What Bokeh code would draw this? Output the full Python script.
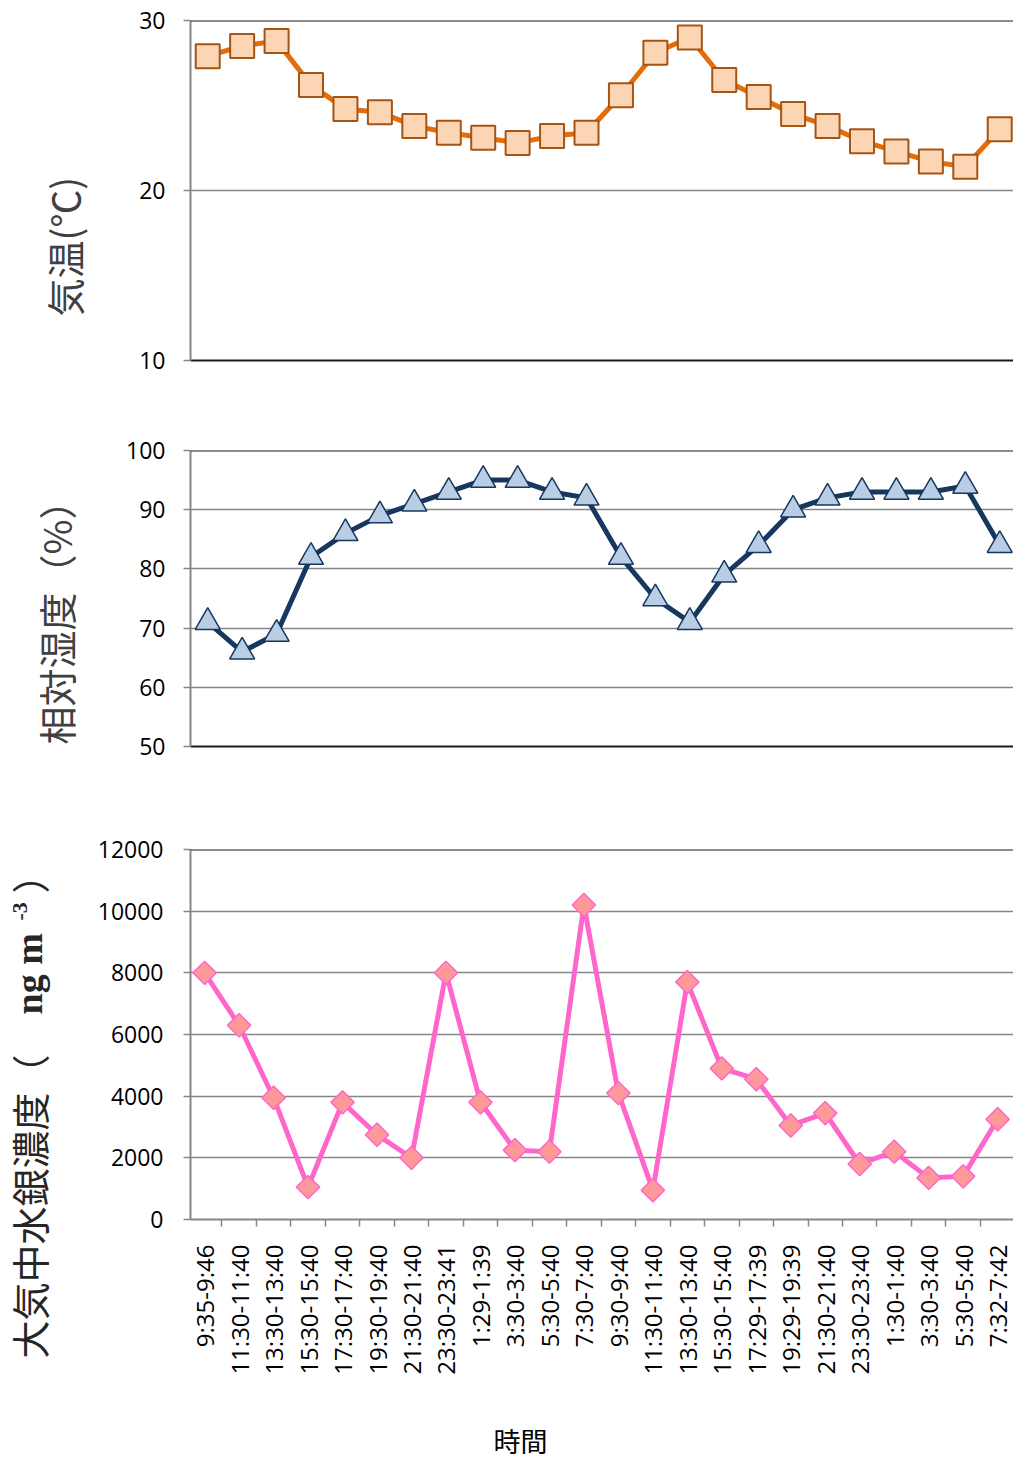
import numpy as np
from bokeh.plotting import figure
from bokeh.models import FixedTicker, Range1d, Span
from bokeh.layouts import column, row
from bokeh.embed import file_html
from bokeh.resources import INLINE
from bokeh.core.properties import value

# ---------------- data ----------------
time_labels = ["9:35-9:46", "11:30-11:40", "13:30-13:40", "15:30-15:40", "17:30-17:40",
               "19:30-19:40", "21:30-21:40", "23:30-23:41", "1:29-1:39", "3:30-3:40",
               "5:30-5:40", "7:30-7:40", "9:30-9:40", "11:30-11:40", "13:30-13:40",
               "15:30-15:40", "17:29-17:39", "19:29-19:39", "21:30-21:40", "23:30-23:40",
               "1:30-1:40", "3:30-3:40", "5:30-5:40", "7:32-7:42"]
temperature = [27.9, 28.5, 28.8, 26.2, 24.8, 24.6, 23.8, 23.4, 23.1, 22.8, 23.2, 23.4,
               25.6, 28.1, 29.0, 26.5, 25.5, 24.5, 23.8, 22.9, 22.3, 21.7, 21.4, 23.6]
humidity = [71, 66, 69, 82, 86, 89, 91, 93, 95, 95, 93, 92,
            82, 75, 71, 79, 84, 90, 92, 93, 93, 93, 94, 84]
mercury = [8000, 6300, 3950, 1050, 3800, 2750, 2000, 8000, 3800, 2250, 2200, 10200,
           4100, 950, 7700, 4900, 4550, 3050, 3450, 1800, 2200, 1350, 1400, 3250]
temp_ticks = [10, 20, 30]
hum_ticks = [50, 60, 70, 80, 90, 100]
hg_ticks = [0, 2000, 4000, 6000, 8000, 10000, 12000]
x_title = "時間"
temp_title = "気温(℃)"
hum_title = "相対湿度（%）"
hg_title_parts = ["大気中水銀濃度（", "ng m", "-3", "）"]

xs = list(range(len(time_labels)))

GRID = "#868686"
DARK = "#1a1a1a"
TICK_FONT = "Open Sans"
CJK = "Noto Sans CJK JP"
TOTAL_H = 1461
LEFT_W = 92
MAIN_W = 1013 - LEFT_W
FRAME_L = 190


def bare(p):
    p.outline_line_color = None
    p.xgrid.grid_line_color = None
    p.ygrid.grid_line_color = None


def style_y(p, ticks, standoff=18):
    ax = p.yaxis[0]
    ax.ticker = FixedTicker(ticks=ticks)
    ax.axis_line_color = GRID
    ax.axis_line_width = 2
    ax.major_tick_line_color = GRID
    ax.major_tick_line_width = 1.5
    ax.major_tick_out = 7
    ax.major_tick_in = 0
    ax.minor_tick_line_color = None
    ax.major_label_text_font = TICK_FONT
    ax.major_label_text_font_size = "23px"
    ax.major_label_text_color = "#000000"
    ax.major_label_standoff = standoff
    p.ygrid.grid_line_color = GRID
    p.ygrid.grid_line_width = 1.5
    p.xgrid.grid_line_color = None
    p.outline_line_color = None


def plain_x(p):
    ax = p.xaxis[0]
    ax.ticker = FixedTicker(ticks=[])
    ax.axis_line_color = DARK
    ax.axis_line_width = 2
    ax.major_tick_line_color = None
    ax.minor_tick_line_color = None
    ax.major_label_text_font_size = "0px"


# ---------------- left strip with the axis titles ----------------
pl = figure(width=LEFT_W, height=TOTAL_H, x_range=Range1d(0, LEFT_W), y_range=Range1d(0, TOTAL_H),
            output_backend="svg", toolbar_location=None, x_axis_location=None, y_axis_location=None,
            min_border=0)
bare(pl)
pl.text(x=[63], y=[TOTAL_H - 316], text=[temp_title], angle=np.pi / 2, text_align="left",
        text_baseline="middle", text_font=value(CJK), text_font_size="38px", text_color="#404040")
pl.text(x=[55], y=[TOTAL_H - 744], text=[hum_title], angle=np.pi / 2, text_align="left",
        text_baseline="middle", text_font=value(CJK), text_font_size="38px", text_color="#404040")
hg_x = [28, 28, 19, 28]
hg_y = [1358, 1014, 920, 893]
hg_fonts = [CJK, "Liberation Serif", "Liberation Serif", CJK]
hg_sizes = ["38px", "38px", "22px", "38px"]
hg_styles = ["normal", "bold", "bold", "normal"]
for t, tx, ty, f, s, st in zip(hg_title_parts, hg_x, hg_y, hg_fonts, hg_sizes, hg_styles):
    pl.text(x=[tx], y=[TOTAL_H - ty], text=[t], angle=np.pi / 2, text_align="left",
            text_baseline="middle", text_font=value(f), text_font_size=s,
            text_font_style=st, text_color="#262626")

# ---------------- temperature ----------------
p1 = figure(width=MAIN_W, height=400, x_range=Range1d(-0.5, 23.4), y_range=Range1d(10, 30),
            output_backend="svg", toolbar_location=None,
            min_border_left=FRAME_L - LEFT_W, min_border_right=0, min_border_top=20, min_border_bottom=40)
style_y(p1, temp_ticks)
plain_x(p1)
p1.add_layout(Span(location=30, dimension="width", line_color=DARK, line_width=2))
p1.line(xs, temperature, line_color="#E46C0A", line_width=5)
p1.scatter(xs, temperature, marker="square", size=24, fill_color="#FCD5B5",
           line_color="#A65412", line_width=2)

# ---------------- humidity ----------------
p2 = figure(width=MAIN_W, height=390, x_range=Range1d(-0.5, 23.4), y_range=Range1d(50, 100),
            output_backend="svg", toolbar_location=None,
            min_border_left=FRAME_L - LEFT_W, min_border_right=0, min_border_top=50, min_border_bottom=44)
style_y(p2, hum_ticks)
plain_x(p2)
p2.add_layout(Span(location=100, dimension="width", line_color=DARK, line_width=2))
p2.line(xs, humidity, line_color="#17375E", line_width=5)
p2.scatter(xs, humidity, marker="triangle", size=25, fill_color="#B9CDE5",
           line_color="#17375E", line_width=1.5)

# ---------------- mercury ----------------
p3 = figure(width=MAIN_W, height=610, x_range=Range1d(-0.41, 23.46), y_range=Range1d(0, 12000),
            output_backend="svg", toolbar_location=None,
            min_border_left=FRAME_L - LEFT_W, min_border_right=0, min_border_top=59, min_border_bottom=181)
style_y(p3, hg_ticks, standoff=20)
xa = p3.xaxis[0]
xa.ticker = FixedTicker(ticks=xs, minor_ticks=[i - 0.5 for i in range(len(xs) + 1)])
xa.major_label_overrides = {i: lab for i, lab in zip(xs, time_labels)}
xa.major_label_orientation = np.pi / 2
xa.axis_line_color = GRID
xa.axis_line_width = 2
xa.major_tick_line_color = None
xa.major_tick_out = 0
xa.major_tick_in = 0
xa.minor_tick_line_color = GRID
xa.minor_tick_line_width = 1.5
xa.minor_tick_out = 7
xa.minor_tick_in = 0
xa.major_label_standoff = 18
xa.major_label_text_font = TICK_FONT
xa.major_label_text_font_size = "24px"
xa.major_label_text_color = "#000000"
p3.add_layout(Span(location=12000, dimension="width", line_color=DARK, line_width=2))
p3.line(xs, mercury, line_color="#FF66CC", line_width=5)
p3.scatter(xs, mercury, marker="square", angle=np.pi / 4, size=16.5, fill_color="#FF9999",
           line_color="#FF66CC", line_width=1.5)

# ---------------- bottom strip with the x-axis title ----------------
pb = figure(width=MAIN_W, height=TOTAL_H - 1400, x_range=Range1d(FRAME_L, 1013),
            y_range=Range1d(0, TOTAL_H - 1400), output_backend="svg", toolbar_location=None,
            x_axis_location=None, y_axis_location=None, min_border=0,
            min_border_left=FRAME_L - LEFT_W)
bare(pb)
pb.text(x=[520], y=[TOTAL_H - 1440], text=[x_title], text_align="center", text_baseline="middle",
        text_font=value(CJK), text_font_size="27px", text_color="#000000")

layout = row(pl, column(p1, p2, p3, pb, spacing=0), spacing=0)
open("out.html", "w").write(file_html(layout, INLINE))
